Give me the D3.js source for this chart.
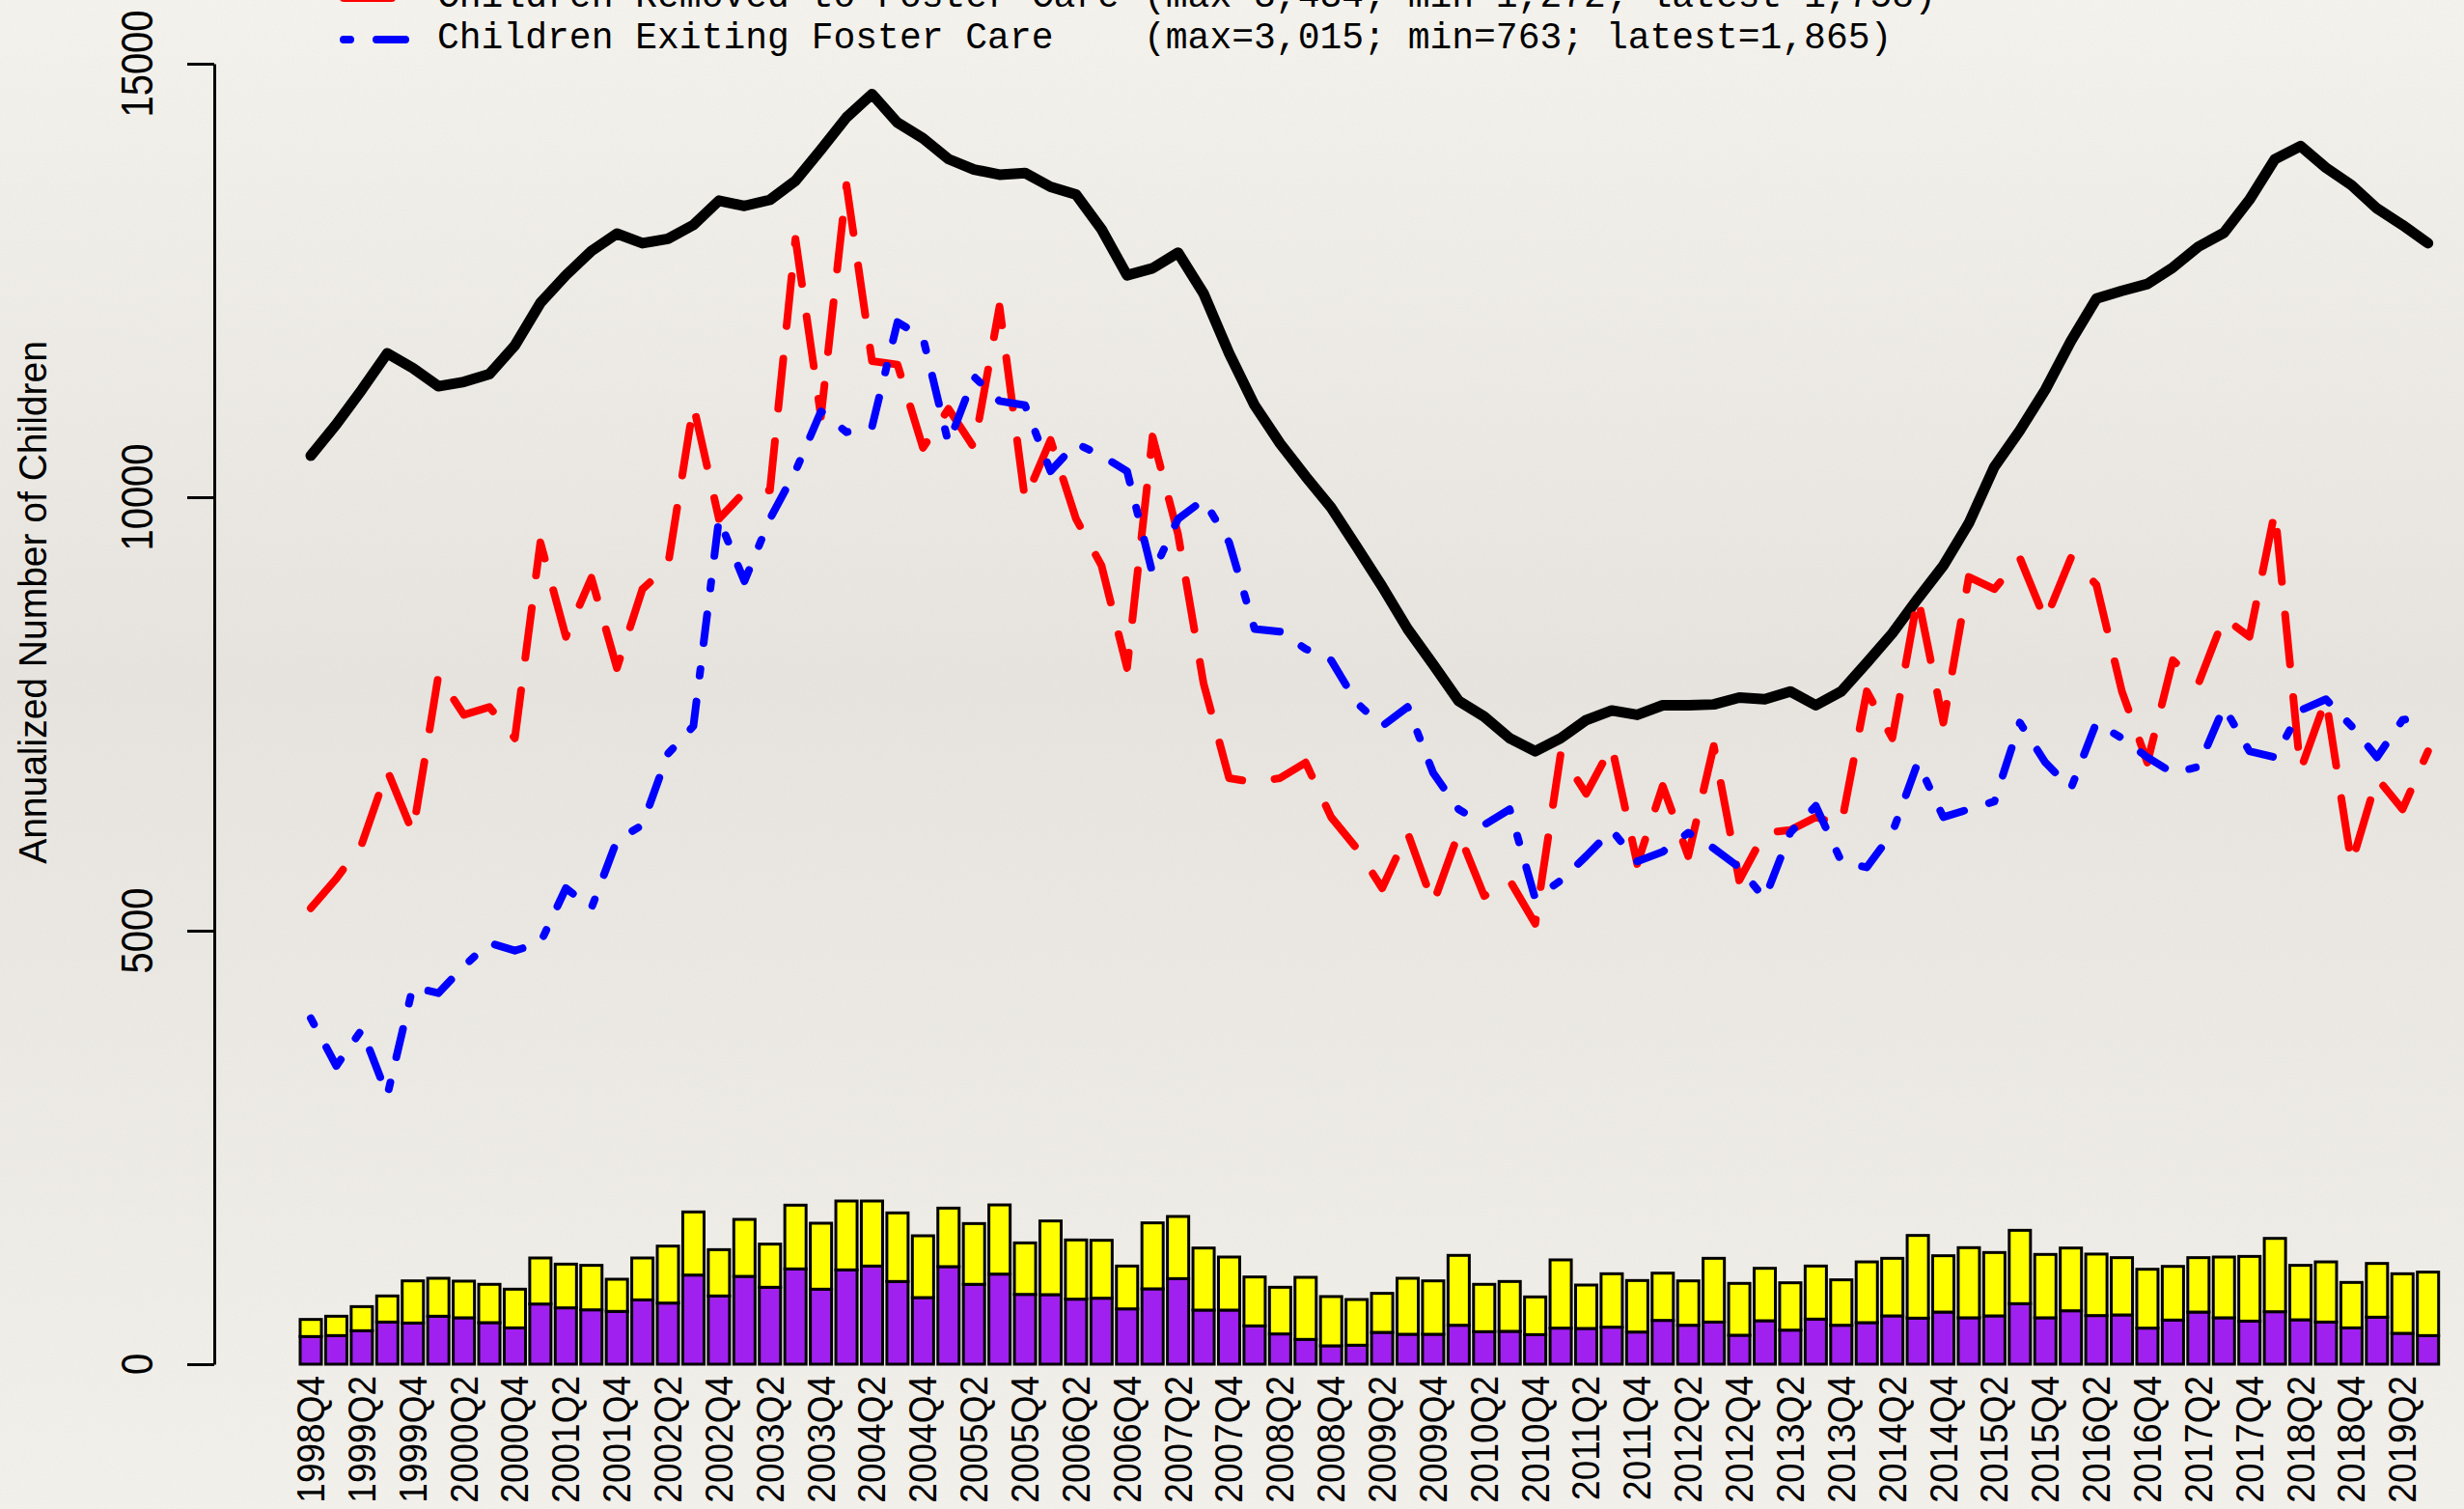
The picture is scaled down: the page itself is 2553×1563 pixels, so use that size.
<!DOCTYPE html>
<html lang="en">
<head>
  <meta charset="UTF-8">
  <title>Foster Care Flows</title>
  <script src="https://d3js.org/d3.v7.min.js"></script>
  <style>
    body { margin: 0; background: #f3f1ec; }
    svg { display: block; }
  </style>
</head>
<body>
  <svg id="chart"></svg>
  <script>
    // quarters on the x axis (only every other one gets a label, as in the original)
    const quarters = [
      "1998Q4",
      "1999Q1", "1999Q2", "1999Q3", "1999Q4",
      "2000Q1", "2000Q2", "2000Q3", "2000Q4",
      "2001Q1", "2001Q2", "2001Q3", "2001Q4",
      "2002Q1", "2002Q2", "2002Q3", "2002Q4",
      "2003Q1", "2003Q2", "2003Q3", "2003Q4",
      "2004Q1", "2004Q2", "2004Q3", "2004Q4",
      "2005Q1", "2005Q2", "2005Q3", "2005Q4",
      "2006Q1", "2006Q2", "2006Q3", "2006Q4",
      "2007Q1", "2007Q2", "2007Q3", "2007Q4",
      "2008Q1", "2008Q2", "2008Q3", "2008Q4",
      "2009Q1", "2009Q2", "2009Q3", "2009Q4",
      "2010Q1", "2010Q2", "2010Q3", "2010Q4",
      "2011Q1", "2011Q2", "2011Q3", "2011Q4",
      "2012Q1", "2012Q2", "2012Q3", "2012Q4",
      "2013Q1", "2013Q2", "2013Q3", "2013Q4",
      "2014Q1", "2014Q2", "2014Q3", "2014Q4",
      "2015Q1", "2015Q2", "2015Q3", "2015Q4",
      "2016Q1", "2016Q2", "2016Q3", "2016Q4",
      "2017Q1", "2017Q2", "2017Q3", "2017Q4",
      "2018Q1", "2018Q2", "2018Q3", "2018Q4",
      "2019Q1", "2019Q2", "2019Q3"
    ];

    // black line
    const inCare = [
      10480, 10840, 11240, 11660, 11490, 11280, 11330, 11420, 11750, 12240,
      12560, 12840, 13040, 12930, 12980, 13140, 13420, 13360, 13430, 13650,
      14010, 14380, 14650, 14320, 14140, 13900, 13780, 13720, 13740, 13580,
      13490, 13090, 12560, 12640, 12820, 12350, 11660, 11060, 10620, 10240,
      9880, 9430, 8970, 8480, 8070, 7650, 7470, 7220, 7070, 7220,
      7430, 7540, 7490, 7600, 7600, 7610, 7690, 7670, 7760, 7600,
      7760, 8090, 8430, 8830, 9210, 9700, 10350, 10770, 11240, 11800,
      12290, 12380, 12460, 12650, 12890, 13050, 13430, 13900, 14050, 13800,
      13600, 13330, 13140, 12930
    ];

    // red dashed line
    const removed = [
      5260, 5600, 6000, 6850, 6130, 7940, 7490, 7580, 7220, 9480,
      8390, 9070, 8030, 8940, 9210, 11060, 9750, 10060, 10080, 12980,
      10930, 13600, 11570, 11530, 10570, 11020, 10570, 12200, 9970, 10660,
      9750, 9210, 8030, 10700, 9570, 7850, 6760, 6710, 6760, 6940,
      6310, 5950, 5490, 6130, 5310, 6130, 5400, 5580, 5080, 7040,
      6580, 7130, 5770, 6670, 5860, 7130, 5580, 6130, 6160, 6310,
      6220, 7760, 7220, 8850, 7400, 9080, 8940, 9300, 8580, 9300,
      8990, 7760, 6940, 8120, 7850, 8610, 8390, 9840, 6850, 7670,
      5770, 6760, 6400, 7070
    ];

    // blue dot-dash line
    const exited = [
      3990, 3440, 3860, 3100, 4350, 4280, 4590, 4860, 4770, 4860,
      5490, 5260, 6040, 6220, 7040, 7360, 9750, 9030, 9750, 10300,
      10990, 10750, 10810, 12020, 11840, 10620, 11390, 11110, 11060, 10300,
      10620, 10480, 10300, 9120, 9750, 9970, 9480, 8480, 8450, 8250,
      8120, 7630, 7360, 7580, 6820, 6400, 6220, 6400, 5370, 5580,
      5860, 6160, 5800, 5910, 6130, 5950, 5730, 5370, 6130, 6440,
      5800, 5730, 6130, 6940, 6310, 6400, 6490, 7400, 6940, 6640,
      7400, 7220, 7000, 6820, 6890, 7580, 7070, 7000, 7540, 7670,
      7360, 7000, 7430, 7490
    ];

    // stacked bars: purple segment at the bottom, yellow segment on top
    const purpleVals = [
      319, 330, 386, 486, 475, 553, 535, 479, 419, 694,
      650, 627, 609, 742, 705, 1028, 787, 1013, 887, 1099,
      865, 1088, 1132, 954, 768, 1125, 921, 1039, 805, 802,
      750, 761, 638, 869, 987, 624, 624, 442, 349, 286,
      212, 219, 367, 345, 345, 449, 375, 379, 341, 416,
      412, 427, 371, 505, 449, 486, 334, 501, 393, 520,
      449, 479, 557, 531, 601, 535, 557, 698, 535, 616,
      561, 568, 416, 509, 601, 535, 497, 605, 512, 486,
      419, 542, 356, 330
    ];
    const yellowVals = [
      197, 223, 278, 301, 486, 438, 423, 442, 446, 531,
      504, 513, 371, 483, 657, 728, 534, 657, 498, 735,
      761, 794, 750, 791, 713, 675, 701, 798, 594, 850,
      683, 668, 494, 761, 717, 716, 612, 564, 538, 716,
      568, 527, 450, 646, 616, 806, 546, 575, 435, 787,
      501, 616, 594, 545, 512, 735, 598, 605, 546, 612,
      524, 701, 664, 954, 650, 809, 731, 846, 731, 724,
      709, 661, 679, 619, 628, 701, 746, 846, 628, 694,
      524, 620, 687, 732
    ];

    const yTicks = [0, 5000, 10000, 15000];
    const legendNames = ["Children Removed to Foster Care", "Children Exiting Foster Care"];
    const legendStats = ["(max=3,434; min=1,272; latest=1,758)", "(max=3,015; min=763; latest=1,865)"];

    const W = 2553, H = 1563;
    const svg = d3.select('#chart').attr('width', W).attr('height', H);

    // paper-ish background
    const defs = svg.append('defs');
    const grad = defs.append('linearGradient').attr('id', 'bg')
      .attr('x1', 0).attr('y1', 0).attr('x2', 0).attr('y2', 1);
    grad.append('stop').attr('offset', '0%').attr('stop-color', '#f7f5f0');
    grad.append('stop').attr('offset', '45%').attr('stop-color', '#e9e6e1');
    grad.append('stop').attr('offset', '100%').attr('stop-color', '#f5f3ee');
    const paper = defs.append('filter').attr('id', 'paper');
    paper.append('feTurbulence').attr('type', 'fractalNoise')
      .attr('baseFrequency', 0.8).attr('numOctaves', 3).attr('seed', 4);
    paper.append('feColorMatrix').attr('type', 'matrix')
      .attr('values', '0 0 0 0 0.45  0 0 0 0 0.42  0 0 0 0 0.38  0 0 0 0.10 0');

    svg.append('rect').attr('width', W).attr('height', H).attr('fill', 'url(#bg)');
    svg.append('rect').attr('width', W).attr('height', H).attr('filter', 'url(#paper)');

    const x = d3.scaleBand()
      .domain(quarters)
      .range([308.8, 2528.9])
      .paddingInner(1 / 6)
      .paddingOuter(1 / 12);
    const cx = q => x(q) + x.bandwidth() / 2;

    const y = d3.scaleLinear()
      .domain([0, 15000])
      .range([1413, 66]);

    // bars
    const stackData = quarters.map((q, i) => ({ q: q, purple: purpleVals[i], yellow: yellowVals[i] }));
    const series = d3.stack().keys(['purple', 'yellow'])(stackData);
    const barColors = { purple: '#a020f0', yellow: '#ffff00' };

    svg.append('g')
      .selectAll('g')
      .data(series)
      .join('g')
      .attr('fill', d => barColors[d.key])
      .selectAll('rect')
      .data(d => d)
      .join('rect')
      .attr('x', d => x(d.data.q))
      .attr('y', d => y(d[1]))
      .attr('width', x.bandwidth())
      .attr('height', d => y(d[0]) - y(d[1]))
      .attr('stroke', '#000')
      .attr('stroke-width', 3);

    // lines
    const line = d3.line()
      .x((d, i) => cx(quarters[i]))
      .y(d => y(d));

    svg.append('path')
      .datum(inCare)
      .attr('d', line)
      .attr('fill', 'none')
      .attr('stroke', '#000')
      .attr('stroke-width', 11)
      .attr('stroke-linejoin', 'round')
      .attr('stroke-linecap', 'round');

    svg.append('path')
      .datum(removed)
      .attr('d', line)
      .attr('fill', 'none')
      .attr('stroke', '#ff0000')
      .attr('stroke-width', 8)
      .attr('stroke-dasharray', '52 34')
      .attr('stroke-linejoin', 'round')
      .attr('stroke-linecap', 'round');

    svg.append('path')
      .datum(exited)
      .attr('d', line)
      .attr('fill', 'none')
      .attr('stroke', '#0000ff')
      .attr('stroke-width', 8)
      .attr('stroke-dasharray', '7 27 30 27')
      .attr('stroke-linejoin', 'round')
      .attr('stroke-linecap', 'round');

    // y axis
    const yAxis = svg.append('g')
      .attr('transform', 'translate(222,0)')
      .call(d3.axisLeft(y).tickValues(yTicks).tickSize(28).tickSizeOuter(0).tickFormat(''));
    yAxis.select('.domain').attr('stroke-width', 3);
    yAxis.selectAll('.tick line').attr('stroke-width', 3);

    svg.append('g')
      .selectAll('text')
      .data(yTicks)
      .join('text')
      .attr('transform', d => `translate(158,${y(d)}) scale(1.17,1) rotate(-90)`)
      .attr('text-anchor', 'middle')
      .attr('font-family', 'Liberation Sans, Arial, sans-serif')
      .attr('font-size', 40)
      .text(d => d);

    svg.append('text')
      .attr('transform', 'translate(48,624) scale(1.05,1) rotate(-90)')
      .attr('text-anchor', 'middle')
      .attr('font-family', 'Liberation Sans, Arial, sans-serif')
      .attr('font-size', 39)
      .text('Annualized Number of Children');

    // x labels, every other quarter
    svg.append('g')
      .selectAll('text')
      .data(quarters.filter((q, i) => i % 2 === 0))
      .join('text')
      .attr('transform', d => `translate(${cx(d)},1425) scale(1.08,1) rotate(-90)`)
      .attr('text-anchor', 'end')
      .attr('dy', '0.35em')
      .attr('font-family', 'Liberation Sans, Arial, sans-serif')
      .attr('font-size', 37)
      .text(d => d);

    // legend (top row for the black line sits above the visible area)
    const legend = svg.append('g');
    const rowY = [-2, 41];
    legend.append('line')
      .attr('x1', 356).attr('x2', 406).attr('y1', rowY[0]).attr('y2', rowY[0])
      .attr('stroke', '#ff0000').attr('stroke-width', 8)
      .attr('stroke-dasharray', '52 34').attr('stroke-linecap', 'round');
    legend.append('line')
      .attr('x1', 356).attr('x2', 420).attr('y1', rowY[1]).attr('y2', rowY[1])
      .attr('stroke', '#0000ff').attr('stroke-width', 8)
      .attr('stroke-dasharray', '7 27 30 27').attr('stroke-linecap', 'round');

    legend.selectAll('text.name')
      .data(legendNames)
      .join('text')
      .attr('class', 'name')
      .attr('x', 453)
      .attr('y', (d, i) => rowY[i] + 9)
      .attr('font-family', 'Liberation Mono, monospace')
      .attr('font-size', 38)
      .text(d => d);

    legend.selectAll('text.stats')
      .data(legendStats)
      .join('text')
      .attr('class', 'stats')
      .attr('x', 1185)
      .attr('y', (d, i) => rowY[i] + 9)
      .attr('font-family', 'Liberation Mono, monospace')
      .attr('font-size', 38)
      .text(d => d);
  </script>
</body>
</html>
